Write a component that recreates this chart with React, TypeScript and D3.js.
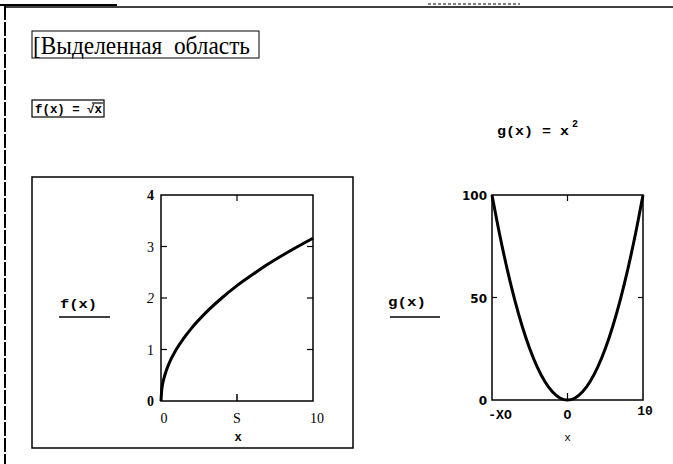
import React from "react";
import * as d3 from "d3";

const fX = [0, 0.05, 0.1, 0.25, 0.5, 1, 1.5, 2, 3, 4, 5, 6, 7, 8, 9, 10];
const fY = [0, 0.22, 0.32, 0.5, 0.71, 1, 1.22, 1.41, 1.73, 2, 2.24, 2.45, 2.65, 2.83, 3, 3.16];
const gX = [-10, -9, -8, -7, -6, -5, -4, -3, -2, -1, 0, 1, 2, 3, 4, 5, 6, 7, 8, 9, 10];
const gY = [100, 81, 64, 49, 36, 25, 16, 9, 4, 1, 0, 1, 4, 9, 16, 25, 36, 49, 64, 81, 100];

const fYTicks = [0, 1, 2, 3, 4];
const fYLabels = ["0", "1", "2", "3", "4"];
const fXTicks = [0, 5, 10];
const fXLabels = ["0", "S", "10"];
const gYTicks = [0, 50, 100];
const gYLabels = ["0", "50", "100"];
const gXTicks = [-10, 0, 10];
const gXLabels = ["-XO", "O", "10"];

const titleText = "[Выделенная\u00A0\u00A0область";

export default function App() {
  const x1 = d3.scaleLinear().domain([0, 10]).range([161, 313]);
  const y1 = d3.scaleLinear().domain([0, 4]).range([401, 195]);
  const x2 = d3.scaleLinear().domain([-10, 10]).range([492, 643]);
  const y2 = d3.scaleLinear().domain([0, 100]).range([400, 195]);

  const line1 = d3
    .line<number>()
    .x((_, i) => x1(fX[i]))
    .y((d) => y1(d))
    .curve(d3.curveMonotoneX);
  const line2 = d3
    .line<number>()
    .x((_, i) => x2(gX[i]))
    .y((d) => y2(d))
    .curve(d3.curveMonotoneX);

  const mono = "'Liberation Mono', 'DejaVu Sans Mono', monospace";
  const serif = "'Liberation Serif', 'DejaVu Serif', serif";
  const sans = "'DejaVu Sans', 'Liberation Sans', sans-serif";

  return (
    <svg
      width={673}
      height={464}
      style={{ position: "absolute", left: 0, top: 0, background: "#fff" }}
    >
      <rect x={0} y={0} width={673} height={464} fill="#fff" />
      {/* outer page frame */}
      <line x1={5} y1={7} x2={673} y2={7} stroke="#000" strokeWidth={1.5} />
      <line x1={0} y1={5} x2={117} y2={5} stroke="#000" strokeWidth={2} />
      <line x1={5} y1={6} x2={5} y2={464} stroke="#000" strokeWidth={2} strokeDasharray="14 2" />
      <line x1={428} y1={4} x2={520} y2={4} stroke="#555" strokeWidth={1.5} strokeDasharray="3 2" />

      {/* title box */}
      <rect x={32} y={31} width={227} height={27} fill="none" stroke="#000" strokeWidth={1} />
      <text x={33} y={54} fontFamily={serif} fontSize={26} textLength={217} lengthAdjust="spacingAndGlyphs">
        {titleText}
      </text>

      {/* f(x) definition */}
      <rect x={32} y={100} width={72} height={17} fill="none" stroke="#000" strokeWidth={1.2} />
      <text x={35} y={113} fontFamily={mono} fontSize={12} fontWeight="bold" textLength={67} lengthAdjust="spacingAndGlyphs">
        {"f(x)\u00A0=\u00A0√x"}
      </text>
      <line x1={92} y1={103} x2={103} y2={103} stroke="#000" strokeWidth={1.2} />

      {/* g(x) definition */}
      <text x={497} y={135} fontFamily={mono} fontSize={12} fontWeight="bold" textLength={72} lengthAdjust="spacingAndGlyphs">
        {"g(x)\u00A0=\u00A0x"}
      </text>
      <text x={572} y={127} fontFamily={mono} fontSize={10} fontWeight="bold">
        2
      </text>

      {/* left region box */}
      <rect x={32} y={177} width={321} height={271} fill="none" stroke="#000" strokeWidth={1.5} />

      {/* plot 1 */}
      <rect x={x1(0)} y={y1(4)} width={x1(10) - x1(0)} height={y1(0) - y1(4)} fill="none" stroke="#000" strokeWidth={1.5} />
      {fYTicks.slice(1, 4).map((t) => (
        <g key={"f1" + t}>
          <line x1={x1(0)} x2={x1(0) + 6} y1={y1(t)} y2={y1(t)} stroke="#000" strokeWidth={1.2} />
          <line x1={x1(10)} x2={x1(10) - 6} y1={y1(t)} y2={y1(t)} stroke="#000" strokeWidth={1.2} />
        </g>
      ))}
      <line x1={x1(5)} x2={x1(5)} y1={y1(4)} y2={y1(4) + 6} stroke="#000" strokeWidth={1.2} />
      <line x1={x1(5)} x2={x1(5)} y1={y1(0)} y2={y1(0) - 7} stroke="#000" strokeWidth={1.5} />
      {fYTicks.map((t, i) => (
        <text key={"fy" + t} x={x1(0) - 7} y={y1(t) + 5} textAnchor="end" fontFamily={serif} fontSize={14}
          fontWeight={t === 0 || t === 4 ? "bold" : "normal"} fontStyle={t === 2 ? "italic" : "normal"}>
          {fYLabels[i]}
        </text>
      ))}
      {fXTicks.map((t, i) => (
        <text key={"fx" + t} x={x1(t) + (t === 0 ? 3 : t === 10 ? 4 : 0)} y={423} textAnchor="middle" fontFamily={serif} fontSize={14}>
          {fXLabels[i]}
        </text>
      ))}
      <text x={x1(5) + 1} y={441} textAnchor="middle" fontFamily={mono} fontSize={12} fontWeight="bold">
        x
      </text>
      <path d={line1(fY) || ""} fill="none" stroke="#000" strokeWidth={3} />
      <text x={60} y={308} fontFamily={mono} fontSize={13} fontWeight="bold" textLength={37} lengthAdjust="spacingAndGlyphs">
        f(x)
      </text>
      <line x1={59} y1={317} x2={110} y2={317} stroke="#000" strokeWidth={1.5} />

      {/* plot 2 */}
      <text x={388} y={306} fontFamily={mono} fontSize={13} fontWeight="bold" textLength={38} lengthAdjust="spacingAndGlyphs">
        g(x)
      </text>
      <line x1={390} y1={317} x2={440} y2={317} stroke="#000" strokeWidth={1.5} />
      <rect x={x2(-10)} y={y2(100)} width={x2(10) - x2(-10)} height={y2(0) - y2(100)} fill="none" stroke="#000" strokeWidth={1.5} />
      <line x1={x2(-10)} x2={x2(-10) + 5} y1={y2(50)} y2={y2(50)} stroke="#000" strokeWidth={1.2} />
      <line x1={x2(10)} x2={x2(10) - 5} y1={y2(50)} y2={y2(50)} stroke="#000" strokeWidth={1.2} />
      <line x1={x2(0)} x2={x2(0)} y1={y2(100)} y2={y2(100) + 6} stroke="#000" strokeWidth={1.2} />
      <line x1={x2(0)} x2={x2(0)} y1={y2(0)} y2={y2(0) - 7} stroke="#000" strokeWidth={1.2} />
      {gYTicks.map((t, i) => (
        <text key={"gy" + t} x={x2(-10) - 5} y={y2(t) + 5} textAnchor="end" fontFamily={sans} fontSize={12}
          fontWeight="bold">
          {gYLabels[i]}
        </text>
      ))}
      {gXTicks.map((t, i) => (
        <text key={"gx" + t} x={x2(t) + (t === -10 ? 8 : t === 10 ? 2 : 0)} y={t === 10 ? 415 : 419} textAnchor="middle"
          fontFamily={mono} fontSize={13} fontWeight="bold">
          {gXLabels[i]}
        </text>
      ))}
      <text x={x2(0)} y={441} textAnchor="middle" fontFamily={mono} fontSize={11}>
        x
      </text>
      <path d={line2(gY) || ""} fill="none" stroke="#000" strokeWidth={3} />
    </svg>
  );
}
